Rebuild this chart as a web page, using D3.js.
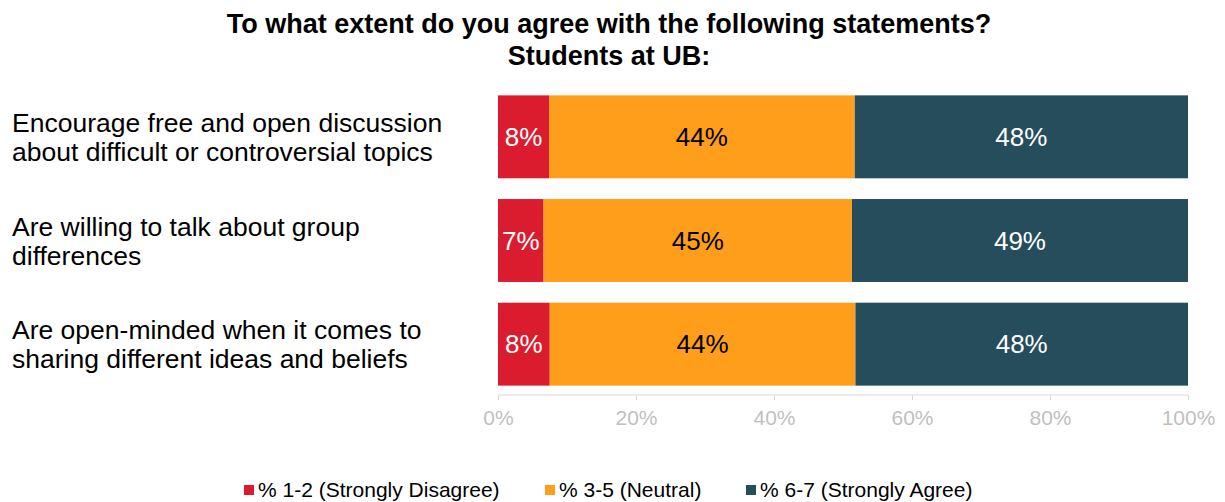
<!DOCTYPE html>
<html>
<head>
<meta charset="utf-8">
<script src="https://cdn.jsdelivr.net/npm/d3@7"></script>
<style>
  body { margin: 0; background: #fff; }
  text { font-family: Arial, "Liberation Sans", sans-serif; }
</style>
</head>
<body>
<div id="chart-area"></div>
<script>
const width = 1225;
const height = 502;

// data
const statements = [
    ['Encourage free and open discussion', 'about difficult or controversial topics'],
    ['Are willing to talk about group', 'differences'],
    ['Are open-minded when it comes to', 'sharing different ideas and beliefs']
];
const seriesNames = ['% 1-2 (Strongly Disagree)', '% 3-5 (Neutral)', '% 6-7 (Strongly Agree)'];
const disagree = [7.4, 6.6, 7.5];
const neutral = [44.3, 44.7, 44.3];
const agree = [48.3, 48.7, 48.2];
const shownLabels = [['8%', '44%', '48%'], ['7%', '45%', '49%'], ['8%', '44%', '48%']];
const tickValues = [0, 20, 40, 60, 80, 100];

const colors = ['#DA1C2E', '#FF9E1B', '#264D5B'];
const textColors = ['#fff', '#000', '#fff'];

let svg = d3.select('#chart-area').append('svg').attr('width', width).attr('height', height);

let x = d3.scaleLinear().domain([0, 100]).range([498, 1188]);
let y = d3.scaleBand()
    .domain(d3.range(statements.length))
    .range([85, 396])
    .paddingInner(0.2)
    .paddingOuter(0.1);

// title
svg.append('text')
    .attr('x', 609).attr('y', 33)
    .attr('text-anchor', 'middle')
    .attr('font-size', 27).attr('font-weight', 'bold')
    .text('To what extent do you agree with the following statements?');
svg.append('text')
    .attr('x', 609).attr('y', 65)
    .attr('text-anchor', 'middle')
    .attr('font-size', 27).attr('font-weight', 'bold')
    .text('Students at UB:');

// stacked rows
let rows = statements.map((s, i) => {
    let vals = [disagree[i], neutral[i], agree[i]];
    let start = 0;
    return vals.map((v, k) => {
        let seg = { row: i, k: k, x0: start, x1: start + v, label: shownLabels[i][k] };
        start += v;
        return seg;
    });
});
let segs = rows.flat();

svg.selectAll('rect.bar').data(segs).enter().append('rect')
    .attr('class', 'bar')
    .attr('x', (d) => { return x(d.x0); })
    .attr('y', (d) => { return y(d.row); })
    .attr('width', (d) => { return x(d.x1) - x(d.x0); })
    .attr('height', y.bandwidth())
    .attr('fill', (d) => { return colors[d.k]; });

svg.selectAll('text.val').data(segs).enter().append('text')
    .attr('class', 'val')
    .attr('x', (d) => { return (x(d.x0) + x(d.x1)) / 2; })
    .attr('y', (d) => { return y(d.row) + y.bandwidth() / 2 + 9; })
    .attr('text-anchor', 'middle')
    .attr('font-size', 26)
    .attr('fill', (d) => { return textColors[d.k]; })
    .text((d) => { return d.label; });

// category labels
statements.forEach((lines, i) => {
    let cy = y(i) + y.bandwidth() / 2;
    lines.forEach((line, j) => {
        svg.append('text')
            .attr('x', 12)
            .attr('y', cy + (j - (lines.length - 1) / 2) * 29 + 9.5)
            .attr('font-size', 26.5)
            .attr('fill', '#000')
            .text(line);
    });
});

// x axis
let axis = svg.append('g')
    .attr('transform', 'translate(0,395)')
    .call(d3.axisBottom(x).tickValues(tickValues).tickSize(5).tickPadding(10).tickFormat((d) => d + '%'));
axis.selectAll('path, line').attr('stroke', '#D9D9D9');
axis.select('.domain').attr('d', 'M' + x(0) + ',0H' + x(100));
axis.selectAll('text')
    .attr('fill', '#BFBFBF')
    .attr('font-size', 21)
    .attr('font-family', 'Arial, "Liberation Sans", sans-serif');

// legend
const legendX = [244, 545, 746];
seriesNames.forEach((name, k) => {
    svg.append('rect')
        .attr('x', legendX[k]).attr('y', 485)
        .attr('width', 10).attr('height', 10)
        .attr('fill', colors[k]);
    svg.append('text')
        .attr('x', legendX[k] + 14).attr('y', 497)
        .attr('font-size', 21)
        .attr('fill', '#000')
        .text(name);
});
</script>
</body>
</html>
